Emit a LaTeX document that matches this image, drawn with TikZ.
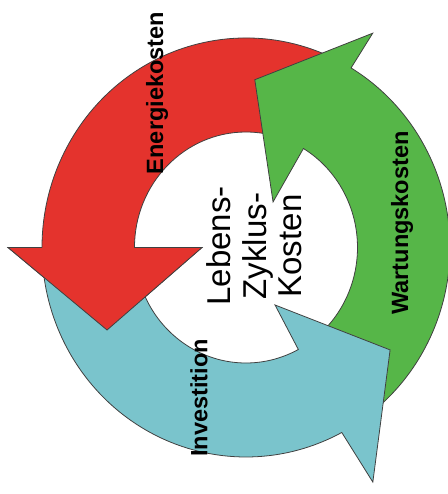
\documentclass[tikz,border=0pt]{standalone}
\usepackage{fontspec}
\setmainfont{Liberation Sans}
\usepackage{xcolor}
\definecolor{ColR}{RGB}{228,51,45}
\definecolor{ColG}{RGB}{86,182,72}
\definecolor{ColC}{RGB}{122,196,204}
\usepackage{tikz}
\tikzstyle{Arrow}=[draw=black!75,line width=0.45pt,line join=miter]
\tikzstyle{Label}=[font=\fontsize{13.4}{15}\selectfont\bfseries,
rotate=90,inner sep=0pt]
\tikzstyle{Title}=[font=\fontsize{18.8}{20.2}\selectfont,rotate=90,
align=center,inner sep=0pt]

\begin{document}
\begin{tikzpicture}[x=0.02cm,y=0.02cm]
        \useasboundingbox(-246,-246.5)rectangle(202,247.5);
        % Energiekosten
        \path[Arrow,fill=ColR](63:204 and 209.5)
            arc[start angle=63,end angle=180,x radius=204,y radius=209.5]
            --(180:238)--(210.7:161.6)--(180:44)--(180:111.5)
            arc[start angle=180,end angle=63,x radius=111.5,y radius=115.5]
            --cycle;
        % Wartungskosten
        \path[Arrow,fill=ColG](-55:204 and 209.5)
            arc[start angle=-55,end angle=59,x radius=204,y radius=209.5]
            --(59.4:249)--(87:168)--(59.3:53)--(59:111.5 and 115.5)
            arc[start angle=59,end angle=-55,x radius=111.5,y radius=115.5]
            --cycle;
        % Investition
        \path[Arrow,fill=ColC](185:204 and 209.5)
            arc[start angle=185,end angle=298,x radius=204,y radius=209.5]
            --(298.4:266.7)--(324.6:176.8)--(296.8:64.4)
            --(298:111.5 and 115.5)
            arc[start angle=298,end angle=185,x radius=111.5,y radius=115.5]
            --cycle;
        % red head over the cyan tail
        \fill[ColR](180:204)--(180:238)--(210.7:161.6)--(180:44)
            --(180:111.5)--cycle;
        \draw[Arrow](180:204)--(180:238)--(210.7:161.6)--(180:44)
            --(180:111.5);
        \node[Title](center)at(8.5,1.5){Lebens-\\Zyklus-\\Kosten};
        \node[Label](energy)at(-89,154.5){Energiekosten};
        \node[Label](service)at(156,24.5){Wartungskosten};
        \node[Label](invest)at(-47,-150.5){Investition};
    \end{tikzpicture}
\end{document}
